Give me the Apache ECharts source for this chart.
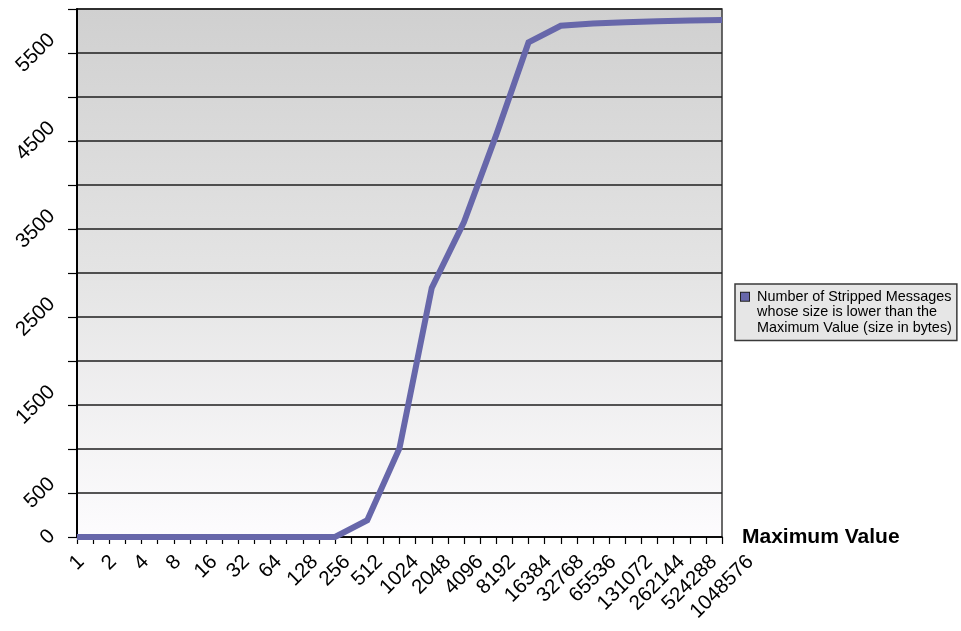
<!DOCTYPE html>
<html>
<head>
<meta charset="utf-8">
<script src="https://cdn.jsdelivr.net/npm/echarts@6/dist/echarts.min.js"></script>
<style>
html,body{margin:0;padding:0;background:#fff;}
#chart{width:961px;height:631px;}
</style>
</head>
<body>
<div id="chart"></div>
<script>
// ---- data ----
const categories = ['1','2','4','8','16','32','64','128','256','512','1024','2048','4096','8192','16384','32768','65536','131072','262144','524288','1048576'];
const messageCounts = [0,0,0,0,0,0,0,0,0,190,1010,2830,3580,4570,5620,5810,5835,5850,5860,5870,5875];
const yTickLabels = [0,500,1500,2500,3500,4500,5500];
const seriesName = 'Number of Stripped Messages\nwhose size is lower than the\nMaximum Value (size in bytes)';
const xAxisTitle = 'Maximum Value';

// ---- layout helpers (label placement like the original: centred on ticks) ----
const FS = 20.5, DW = FS * 0.556, INK = FS * 0.716, FONT = 'Liberation Sans, Arial, sans-serif';
const GRID = {left: 77, right: 239, top: 9, bottom: 94};
const axisY = 631 - GRID.bottom, axisX = GRID.left, MARGIN = 8;
const rich = {};
for (let n = 1; n <= 7; n++) {
  const e = 0.707 * (n * DW + INK);
  const d = (axisY + 16.5 + e / 2) - (axisY + MARGIN);
  const P = Math.max(0, 1.414 * d);
  rich['x' + n] = {fontSize: FS, fontFamily: FONT, color: '#000', padding: [P, P, 0, 0]};
  const q = (axisX - MARGIN) - (axisX - 20 - e / 2);
  const Q = Math.max(0, 1.414 * q);
  rich['y' + n] = {fontSize: FS, fontFamily: FONT, color: '#000', padding: [0, Q, Q, 0]};
}

const chart = echarts.init(document.getElementById('chart'), null, {renderer: 'canvas'});
const lineColor = '#6767aa';
const legendLines = seriesName.split('\n');

chart.setOption({
  backgroundColor: '#ffffff',
  animation: false,
  grid: {
    left: GRID.left, right: GRID.right, top: GRID.top, bottom: GRID.bottom,
    containLabel: false, outerBoundsMode: 'none',
    show: true,
    borderColor: '#3a3a3a', borderWidth: 1.5,
    backgroundColor: new echarts.graphic.LinearGradient(0, 0, 0, 1, [
      {offset: 0, color: '#d0d0d0'},
      {offset: 0.5, color: '#e4e4e4'},
      {offset: 1, color: '#fdfcfe'}
    ])
  },
  legend: {
    show: true,
    left: 735, top: 284,
    orient: 'vertical',
    icon: 'none',
    itemWidth: 0, itemHeight: 9,
    backgroundColor: '#e6e6e6',
    borderColor: '#3a3a3a', borderWidth: 1.5, borderRadius: 0,
    padding: [5, 5, 5, 1],
    selectedMode: false,
    formatter: function () {
      return '{sq| }{g| }{t|' + legendLines[0] + '}\n{sp| }{t|' + legendLines[1] + '}\n{sp| }{t|' + legendLines[2] + '}';
    },
    textStyle: {
      color: '#000', fontSize: 14.4, fontFamily: FONT, lineHeight: 15.5,
      rich: {
        sq: {width: 8, height: 8, backgroundColor: lineColor, borderColor: '#222', borderWidth: 1, lineHeight: 15.5, fontSize: 14.4},
        g: {width: 8, lineHeight: 15.5, fontSize: 14.4},
        sp: {width: 16, lineHeight: 15.5, fontSize: 14.4},
        t: {color: '#000', fontSize: 14.4, fontFamily: FONT, lineHeight: 15.5}
      }
    },
    data: [{name: seriesName, icon: 'none'}]
  },
  xAxis: {
    type: 'value',
    min: 0, max: categories.length - 1, interval: 0.5,
    name: xAxisTitle,
    nameLocation: 'end',
    nameGap: 20,
    nameTextStyle: {fontSize: 21, fontWeight: 'bold', fontFamily: FONT, color: '#000', padding: [6, 0, 0, 0], align: 'left', verticalAlign: 'middle'},
    axisLine: {show: true, onZero: false, lineStyle: {color: '#000', width: 1.5}},
    axisTick: {show: true, length: 7, inside: false, lineStyle: {color: '#000', width: 1.2}},
    splitLine: {show: false},
    axisLabel: {
      show: true, rotate: 45, margin: MARGIN, align: 'center', verticalAlign: 'middle',
      showMinLabel: true, showMaxLabel: true, hideOverlap: false,
      fontSize: FS, fontFamily: FONT, color: '#000',
      formatter: function (v) {
        const i = Math.round(v);
        if (Math.abs(v - i) > 1e-6 || !categories[i]) return '';
        const s = categories[i];
        return '{x' + s.length + '|' + s + '}';
      },
      rich: rich
    }
  },
  yAxis: {
    type: 'value',
    min: 0, max: 6000, interval: 500,
    axisLine: {show: true, lineStyle: {color: '#000', width: 2}},
    axisTick: {show: true, length: 9, inside: false, lineStyle: {color: '#000', width: 1.2}},
    splitLine: {show: true, lineStyle: {color: '#1e1e1e', width: 1.5}},
    axisLabel: {
      show: true, rotate: 45, margin: MARGIN, align: 'center', verticalAlign: 'middle',
      showMinLabel: true, showMaxLabel: true, hideOverlap: false,
      fontSize: FS, fontFamily: FONT, color: '#000',
      formatter: function (v) {
        if (yTickLabels.indexOf(v) < 0) return '';
        const s = String(v);
        return '{y' + s.length + '|' + s + '}';
      },
      rich: rich
    }
  },
  series: [{
    name: seriesName,
    type: 'line',
    data: messageCounts.map(function (v, i) { return [i, v]; }),
    symbol: 'none',
    clip: false,
    lineStyle: {color: lineColor, width: 6, cap: 'butt', join: 'miter'},
    itemStyle: {color: lineColor},
    z: 3
  }]
});
</script>
</body>
</html>
